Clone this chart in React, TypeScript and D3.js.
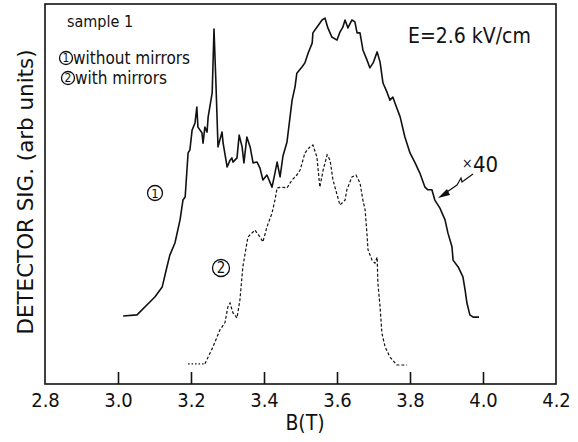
import { useEffect, useRef } from 'react'
import * as d3 from 'd3'

// B (T) vs detector signal (arb units)
const withoutB = [3.014, 3.052, 3.101, 3.121, 3.134, 3.142, 3.156, 3.17, 3.178, 3.184, 3.192, 3.197, 3.203, 3.211, 3.216, 3.219, 3.23, 3.233, 3.238, 3.244, 3.247, 3.258, 3.263, 3.268, 3.274, 3.285, 3.288, 3.299, 3.307, 3.312, 3.315, 3.326, 3.332, 3.34, 3.345, 3.353, 3.362, 3.37, 3.381, 3.389, 3.397, 3.408, 3.422, 3.43, 3.436, 3.444, 3.452, 3.463, 3.477, 3.485, 3.49, 3.504, 3.512, 3.521, 3.532, 3.534, 3.545, 3.559, 3.567, 3.575, 3.586, 3.6, 3.608, 3.616, 3.622, 3.63, 3.641, 3.649, 3.655, 3.663, 3.671, 3.682, 3.69, 3.699, 3.71, 3.718, 3.726, 3.737, 3.745, 3.753, 3.759, 3.773, 3.786, 3.8, 3.814, 3.827, 3.841, 3.849, 3.86, 3.868, 3.882, 3.896, 3.904, 3.915, 3.918, 3.932, 3.945, 3.951, 3.956, 3.964, 3.973, 3.989]
const withoutSig = [17.9, 18.2, 22.9, 25.5, 30.8, 33.9, 37.1, 43.2, 48.4, 49.2, 60.8, 61.6, 66.8, 68.7, 72.9, 67.6, 66.1, 63.4, 67.6, 66.3, 70.3, 76.6, 93.4, 80.0, 62.4, 66.3, 63.4, 57.1, 58.9, 59.5, 58.4, 59.5, 65.5, 62.4, 58.2, 65.0, 62.4, 58.2, 58.4, 56.8, 53.7, 55.0, 51.8, 55.5, 58.4, 54.5, 60.0, 63.7, 74.7, 78.2, 81.8, 83.4, 84.5, 87.1, 89.7, 92.4, 93.9, 95.8, 96.3, 93.7, 91.3, 90.5, 92.6, 93.9, 95.8, 93.7, 95.8, 95.3, 92.4, 92.4, 87.9, 85.3, 83.2, 84.5, 87.4, 84.7, 79.2, 76.8, 74.7, 75.5, 73.9, 70.3, 65.0, 60.8, 58.2, 55.5, 51.8, 51.1, 51.1, 48.4, 46.3, 43.2, 39.7, 36.1, 32.6, 30.8, 28.2, 24.7, 21.3, 18.2, 17.6, 17.6]

const withB = [3.192, 3.238, 3.26, 3.279, 3.293, 3.301, 3.307, 3.315, 3.326, 3.334, 3.342, 3.356, 3.375, 3.389, 3.397, 3.408, 3.422, 3.43, 3.436, 3.449, 3.463, 3.477, 3.49, 3.499, 3.512, 3.526, 3.534, 3.545, 3.553, 3.562, 3.573, 3.581, 3.589, 3.608, 3.622, 3.627, 3.641, 3.652, 3.663, 3.671, 3.677, 3.682, 3.685, 3.696, 3.704, 3.71, 3.712, 3.718, 3.723, 3.732, 3.745, 3.764, 3.792]
const withSig = [5.3, 5.3, 9.7, 14.2, 16.1, 20.3, 21.3, 18.7, 17.4, 22.1, 30.8, 38.7, 40.5, 38.7, 37.4, 41.3, 45.0, 48.4, 51.6, 51.8, 51.6, 53.7, 55.0, 56.3, 60.8, 62.4, 62.9, 59.7, 51.8, 56.3, 60.3, 58.9, 53.7, 47.1, 48.4, 51.1, 54.5, 55.0, 52.9, 48.4, 45.8, 39.7, 35.3, 32.6, 31.8, 33.4, 26.6, 20.3, 13.4, 9.7, 7.1, 5.0, 5.0]

const xTicks = [2.8, 3.0, 3.2, 3.4, 3.6, 3.8, 4.0, 4.2]

const FONT = "'DejaVu Sans Condensed', 'DejaVu Sans', sans-serif"

export default function App() {
  const svgRef = useRef<SVGSVGElement>(null)

  useEffect(() => {
    const svg = d3.select(svgRef.current)
    svg.selectAll('*').remove()

    const width = 578
    const height = 442
    const margin = { top: 4, right: 22, bottom: 58, left: 45 }

    const x = d3.scaleLinear().domain([2.8, 4.2]).range([margin.left, width - margin.right])
    const y = d3.scaleLinear().domain([0, 100]).range([height - margin.bottom, margin.top])

    svg.attr('width', width).attr('height', height)
    svg.append('rect').attr('width', width).attr('height', height).attr('fill', '#fff')

    // frame
    svg
      .append('rect')
      .attr('x', x(2.8))
      .attr('y', y(100))
      .attr('width', x(4.2) - x(2.8))
      .attr('height', y(0) - y(100))
      .attr('fill', 'none')
      .attr('stroke', '#111')
      .attr('stroke-width', 1.6)

    // x axis, ticks pointing inward
    svg
      .append('g')
      .attr('transform', `translate(0,${y(0)})`)
      .call(
        d3
          .axisBottom(x)
          .tickValues(xTicks)
          .tickSizeInner(-12)
          .tickSizeOuter(0)
          .tickPadding(9)
          .tickFormat(d3.format('.1f'))
      )
      .call((g) => g.select('.domain').remove())
      .call((g) =>
        g
          .selectAll('line')
          .attr('stroke', '#111')
          .attr('stroke-width', 1.6)
          .attr('opacity', (d) => (d === 2.8 || d === 4.2 ? 0 : 1))
      )
      .call((g) =>
        g.selectAll('text').attr('fill', '#111').attr('font-size', '20px').attr('font-family', FONT)
      )

    svg
      .append('text')
      .attr('x', 305)
      .attr('y', 430)
      .attr('text-anchor', 'middle')
      .attr('font-size', '21px')
      .attr('font-family', FONT)
      .attr('fill', '#111')
      .text('B(T)')

    svg
      .append('text')
      .attr('transform', 'translate(33,192) rotate(-90)')
      .attr('text-anchor', 'middle')
      .attr('font-size', '21px')
      .attr('font-family', FONT)
      .attr('fill', '#111')
      .attr('textLength', 285)
      .attr('lengthAdjust', 'spacingAndGlyphs')
      .text('DETECTOR SIG.  (arb units)')

    // curves
    const line = d3
      .line<[number, number]>()
      .x((d) => x(d[0]))
      .y((d) => y(d[1]))

    const curve1: [number, number][] = withoutB.map((b, i) => [b, withoutSig[i]])
    const curve2: [number, number][] = withB.map((b, i) => [b, withSig[i]])

    svg
      .append('path')
      .attr('d', line(curve1))
      .attr('fill', 'none')
      .attr('stroke', '#111')
      .attr('stroke-width', 1.6)
      .attr('stroke-linejoin', 'round')

    svg
      .append('path')
      .attr('d', line(curve2.slice(0, 2)))
      .attr('fill', 'none')
      .attr('stroke', '#111')
      .attr('stroke-width', 1.3)
      .attr('stroke-dasharray', '1.5 2')

    svg
      .append('path')
      .attr('d', line(curve2.slice(1)))
      .attr('fill', 'none')
      .attr('stroke', '#111')
      .attr('stroke-width', 1.2)
      .attr('stroke-dasharray', '3 2')

    // circled numbers
    const circled = (cx: number, cy: number, r: number, label: string, fs: number) => {
      svg
        .append('circle')
        .attr('cx', cx)
        .attr('cy', cy)
        .attr('r', r)
        .attr('fill', 'none')
        .attr('stroke', '#111')
        .attr('stroke-width', 1.3)
      svg
        .append('text')
        .attr('x', cx)
        .attr('y', cy)
        .attr('dy', '0.36em')
        .attr('text-anchor', 'middle')
        .attr('font-size', `${fs}px`)
        .attr('font-family', FONT)
        .attr('fill', '#111')
        .text(label)
    }

    circled(155, 193, 7.5, '1', 13)
    circled(221, 268, 8.5, '2', 15)
    circled(66, 58, 6.5, '1', 12)
    circled(68, 78, 6.5, '2', 12)

    const note = (tx: number, ty: number, fs: number, s: string) =>
      svg
        .append('text')
        .attr('x', tx)
        .attr('y', ty)
        .attr('font-size', `${fs}px`)
        .attr('font-family', FONT)
        .attr('fill', '#111')
        .text(s)

    note(67, 27, 16, 'sample 1')
    note(73, 64, 17, 'without mirrors')
    note(75, 84, 17, 'with mirrors')
    note(408, 43, 21, 'E=2.6 kV/cm')
    note(462, 168, 14, '×')
    note(473, 172, 22, '40')

    // x40 arrow
    svg
      .append('path')
      .attr('d', 'M473,174 L462,182 L461,178 L457,185 L444,194')
      .attr('fill', 'none')
      .attr('stroke', '#111')
      .attr('stroke-width', 1.2)
    svg
      .append('path')
      .attr('d', 'M438,198 L447,189 L450,195 Z')
      .attr('fill', '#111')
  }, [])

  return (
    <div style={{ position: 'absolute', left: 0, top: 0 }}>
      <svg ref={svgRef} />
    </div>
  )
}
